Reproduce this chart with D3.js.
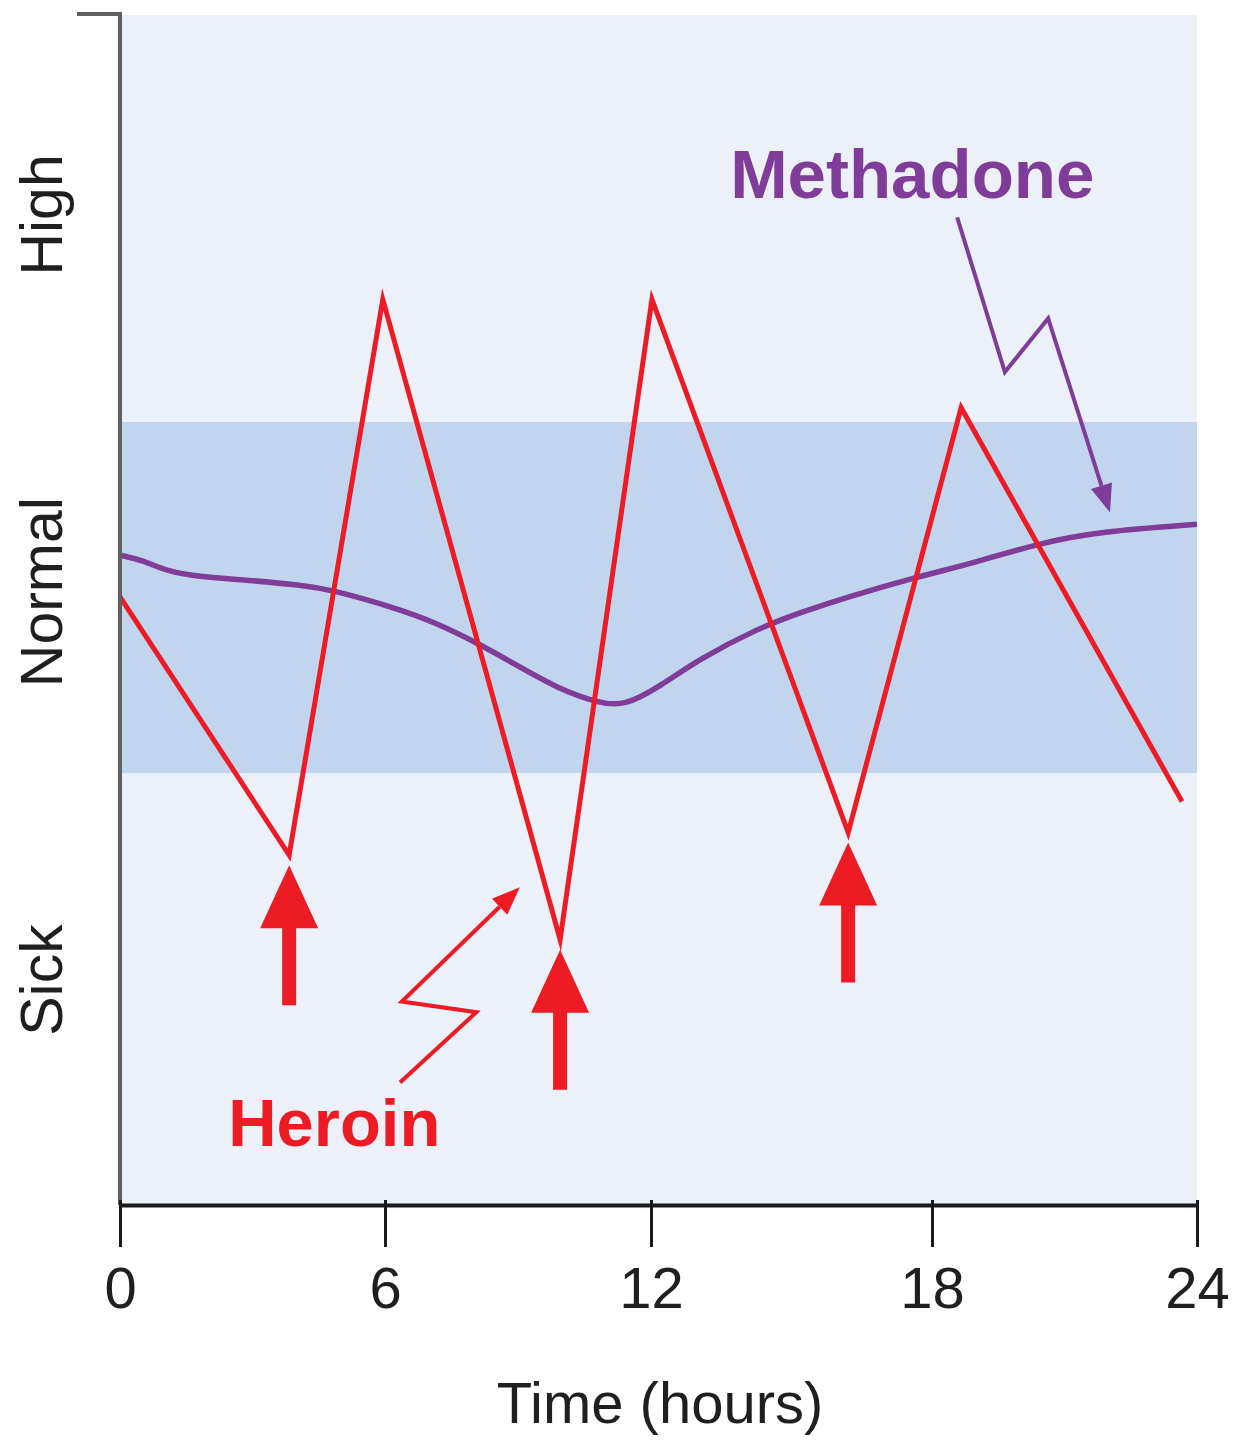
<!DOCTYPE html>
<html>
<head>
<meta charset="utf-8">
<script src="https://cdn.jsdelivr.net/npm/d3@7"></script>
<style>
  html, body { margin: 0; padding: 0; background: #ffffff; }
  svg { display: block; }
  text { font-family: "Liberation Sans", Arial, Helvetica, sans-serif; }
</style>
</head>
<body>
<svg id="chart" width="1233" height="1441"></svg>
<script>
// Time axis (hours)
const hourTicks = [0, 6, 12, 18, 24];

// Effect level 0 (bottom) .. 100 (top); the "Normal" zone
const normalZone = [36.3, 65.8];
const levelLabels = ["High", "Normal", "Sick"];
const levelLabelPos = [83.2, 51.5, 18.9];

// Heroin: sharp swings between doses
const heroinHours = [0, 3.83, 5.95, 9.95, 12.02, 16.21, 18.66, 23.66];
const heroinLevel = [51.1, 29.4, 76.1, 22.3, 76.1, 31.3, 67.0, 33.9];

// Heroin doses (hours)
const doseHours = [3.83, 9.95, 16.21];
const doseLevel = [29.4, 22.3, 31.3];

// Methadone: one smooth, slow curve
const methHours = [0, 0.5, 1.1, 1.8, 2.9, 4.1, 4.8, 6.3, 7.1, 8.1, 9.0,
                   9.9, 10.8, 11.4, 12.2, 13.0, 14.3, 15.2, 16.2, 17.7, 19.0, 20.4, 21.8, 24];
const methLevel = [54.6, 54.2, 53.2, 52.8, 52.5, 52.1, 51.7, 50.1, 49.0, 47.2, 45.3,
                   43.4, 42.2, 41.9, 43.6, 45.8, 48.5, 49.8, 51.1, 52.8, 54.0, 55.6, 56.6, 57.2];

// Series labels and their zig-zag pointers
const heroinLabel = { text: "Heroin", hour: 2.45, level: 5.0 };
const heroinPointerHours = [6.34, 8.06, 6.38, 9.04];
const heroinPointerLevel = [10.3, 16.2, 17.1, 26.7];

const methLabel = { text: "Methadone", hour: 13.69, level: 84.6 };
const methPointerHours = [18.57, 19.65, 20.63, 22.03];
const methPointerLevel = [83.0, 70.0, 74.5, 58.2];

const axisTitle = "Time (hours)";

// ---- layout ----
const RED = "#ed1c24";
const PURPLE = "#7f3c98";
const svg = d3.select("#chart");

const x = d3.scaleLinear().domain(hourTicks).range([120, 385, 651, 932, 1197]);
const y = d3.scaleLinear().domain([0, 100]).range([1205, 15]);

// plot background and normal zone
svg.append("rect")
  .attr("x", x(0)).attr("y", y(100))
  .attr("width", x(24) - x(0)).attr("height", y(0) - y(100))
  .attr("fill", "#ebf0f9");
svg.append("rect")
  .attr("x", x(0)).attr("y", y(normalZone[1]))
  .attr("width", x(24) - x(0)).attr("height", y(normalZone[0]) - y(normalZone[1]))
  .attr("fill", "#c1d5ee");

// methadone curve
const methPts = methHours.map((h, i) => [h, methLevel[i]]);
svg.append("path")
  .datum(methPts)
  .attr("d", d3.line().x(d => x(d[0])).y(d => y(d[1])).curve(d3.curveBasis))
  .attr("fill", "none")
  .attr("stroke", PURPLE)
  .attr("stroke-width", 5.5);

// heroin zig-zag
const heroinPts = heroinHours.map((h, i) => [h, heroinLevel[i]]);
svg.append("path")
  .datum(heroinPts)
  .attr("d", d3.line().x(d => x(d[0])).y(d => y(d[1])))
  .attr("fill", "none")
  .attr("stroke", RED)
  .attr("stroke-width", 5)
  .attr("stroke-linejoin", "miter")
  .attr("stroke-miterlimit", 10);

// dose arrows below each trough
const gap = 10, headH = 63, headW = 58, shaftW = 14, arrowLen = 140;
svg.selectAll("path.dose")
  .data(doseHours.map((h, i) => [h, doseLevel[i]]))
  .join("path")
  .attr("class", "dose")
  .attr("fill", RED)
  .attr("d", d => {
    const cx = x(d[0]), tip = y(d[1]) + gap;
    return `M${cx},${tip} L${cx + headW / 2},${tip + headH} L${cx + shaftW / 2},${tip + headH}
            L${cx + shaftW / 2},${tip + arrowLen} L${cx - shaftW / 2},${tip + arrowLen}
            L${cx - shaftW / 2},${tip + headH} L${cx - headW / 2},${tip + headH} Z`;
  });

// zig-zag pointer with a filled arrowhead at its last vertex
function pointer(hours, levels, color) {
  const pts = hours.map((h, i) => [x(h), y(levels[i])]);
  const n = pts.length;
  const [tx, ty] = pts[n - 1];
  const [px, py] = pts[n - 2];
  const ang = Math.atan2(ty - py, tx - px);
  const L = 28, W = 11;
  const bx = tx - L * Math.cos(ang), by = ty - L * Math.sin(ang);
  const line = pts.slice(0, n - 1).concat([[bx, by]]);
  svg.append("path")
    .attr("d", d3.line()(line))
    .attr("fill", "none")
    .attr("stroke", color)
    .attr("stroke-width", 4)
    .attr("stroke-linejoin", "miter");
  const nx = -Math.sin(ang), ny = Math.cos(ang);
  svg.append("path")
    .attr("d", `M${tx},${ty} L${bx + nx * W},${by + ny * W} L${bx - nx * W},${by - ny * W} Z`)
    .attr("fill", color);
}
pointer(heroinPointerHours, heroinPointerLevel, RED);
pointer(methPointerHours, methPointerLevel, PURPLE);

// series labels
svg.append("text")
  .attr("x", x(heroinLabel.hour)).attr("y", y(heroinLabel.level))
  .attr("fill", RED)
  .attr("font-size", 67).attr("font-weight", "bold")
  .text(heroinLabel.text);
svg.append("text")
  .attr("x", x(methLabel.hour)).attr("y", y(methLabel.level))
  .attr("fill", PURPLE)
  .attr("font-size", 69).attr("font-weight", "bold")
  .text(methLabel.text);

// y axis line with the short cap at the top
svg.append("path")
  .attr("d", `M${x(0) - 43},${y(100) - 1} H${x(0)} V${y(0)}`)
  .attr("fill", "none")
  .attr("stroke", "#606060")
  .attr("stroke-width", 4);

// level labels, rotated
svg.selectAll("text.level")
  .data(levelLabels)
  .join("text")
  .attr("class", "level")
  .attr("transform", (d, i) => `translate(62,${y(levelLabelPos[i])}) rotate(-90)`)
  .attr("text-anchor", "middle")
  .attr("font-size", 59)
  .attr("fill", "#1f1f1f")
  .text(d => d);

// x axis
const xAxis = svg.append("g")
  .attr("transform", `translate(0,${y(0)})`)
  .call(d3.axisBottom(x).tickValues(hourTicks).tickSize(42).tickSizeOuter(0).tickPadding(20)
        .tickFormat(d3.format("d")));
xAxis.select(".domain").attr("stroke", "#1a1a1a").attr("stroke-width", 4);
xAxis.selectAll(".tick line").attr("stroke", "#1a1a1a").attr("stroke-width", 3).attr("y1", -5);
xAxis.selectAll(".tick text")
  .attr("font-size", 58)
  .attr("font-family", "Liberation Sans, Arial, sans-serif")
  .attr("fill", "#1f1f1f");

svg.append("text")
  .attr("x", 660).attr("y", 1423)
  .attr("text-anchor", "middle")
  .attr("font-size", 58)
  .attr("fill", "#1f1f1f")
  .text(axisTitle);
</script>
</body>
</html>
